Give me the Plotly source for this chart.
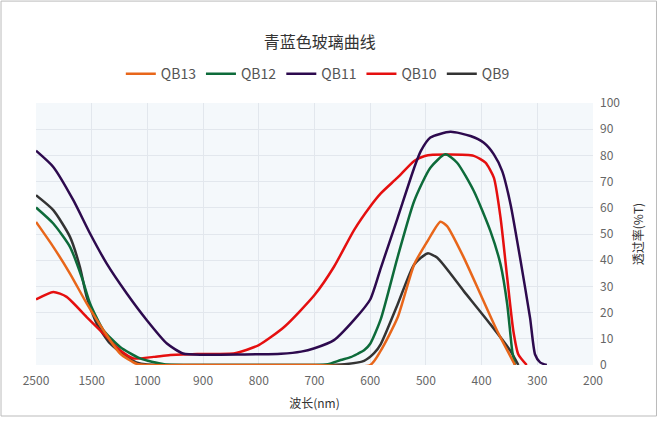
import numpy as np
import plotly.graph_objects as go

# ---- data (wavelength nm, transmittance %T) ----
tick_labels = ["200", "300", "400", "500", "600", "700", "800", "900", "1000", "1500", "2500"]
tick_wavelengths = [200, 300, 400, 500, 600, 700, 800, 900, 1000, 1500, 2500]

series_names = ["QB9", "QB10", "QB11", "QB12", "QB13"]
series_colors = ["#333333", "#e50f0f", "#2d0a4e", "#0d6b3a", "#e8661a"]

qb9_wl = [334, 348, 384, 432, 480, 497, 521, 551, 581, 593, 611, 646, 700, 800, 900, 1000, 1100, 1185, 1335, 1455, 1590, 1710, 1890, 2190, 2500]
qb9_t = [0, 5.3, 15.5, 28.2, 41, 42.6, 38.4, 23, 8, 4.5, 1.6, 0.3, 0, 0, 0, 0.2, 1.0, 3.0, 8.2, 15.8, 26.0, 37.3, 48.9, 59.1, 64.8]

qb10_wl = [319, 334, 343, 354, 366, 378, 393, 414, 462, 502, 521, 551, 581, 600, 629, 665, 700, 754, 800, 843, 903, 959, 989, 1125, 1245, 1365, 1590, 1950, 2190, 2500]
qb10_t = [0, 4, 13, 33.3, 56.2, 71.5, 77.2, 79.8, 80.3, 79.8, 77.9, 71.5, 65.5, 60.5, 51.5, 37.5, 26.7, 14.6, 7.6, 4.5, 4.2, 3.8, 3.1, 2.5, 5.6, 10.7, 18.3, 26.0, 27.9, 25.0]

qb11_wl = [283, 295, 304, 313, 331, 348, 363, 378, 396, 420, 456, 492, 509, 521, 551, 581, 600, 629, 665, 700, 724, 760, 834, 900, 936, 965, 1005, 1185, 1365, 1530, 1830, 2190, 2500]
qb11_t = [0, 1, 4, 18, 41, 61.3, 74, 80.4, 84.8, 87.4, 89, 86.8, 81.7, 75.3, 56, 37, 25, 17.2, 9.5, 6.4, 5.1, 4.3, 4.0, 3.9, 4.4, 8.2, 17.1, 27.3, 38.7, 50.2, 62.9, 75.6, 81.8]

qb12_wl = [340, 345, 354, 366, 384, 414, 444, 465, 492, 521, 551, 581, 600, 611, 623, 635, 653, 676, 700, 800, 900, 970, 1065, 1245, 1395, 1530, 1680, 1890, 2190, 2500]
qb12_t = [0, 5.3, 23.2, 38.4, 51, 66.4, 77.2, 80.4, 75.3, 62.6, 41, 17.5, 8.1, 5.6, 4.2, 3.0, 1.9, 0.3, 0, 0, 0, 0.3, 2.5, 6.9, 13.3, 23.5, 33.6, 45.1, 54.0, 60.1]

qb13_wl = [340, 372, 402, 432, 462, 474, 497, 521, 551, 581, 600, 700, 800, 900, 1000, 1095, 1245, 1395, 1590, 1890, 2190, 2500]
qb13_t = [0, 13, 27, 41, 53, 54.7, 47.3, 38.4, 18, 5.5, 0, 0, 0, 0, 0, 0.4, 4.4, 13.3, 23.5, 34.9, 45.1, 54.6]

series_wl = [qb9_wl, qb10_wl, qb11_wl, qb12_wl, qb13_wl]
series_t = [qb9_t, qb10_t, qb11_t, qb12_t, qb13_t]

# category-like axis: evenly spaced tick wavelengths
tick_pos = list(range(len(tick_wavelengths)))


def to_pos(wl):
    return np.interp(wl, tick_wavelengths, tick_pos)


font_family = "Noto Sans CJK SC, Noto Sans, sans-serif"

fig = go.Figure()
for name, color, wl, t in zip(series_names, series_colors, series_wl, series_t):
    fig.add_trace(go.Scatter(
        x=to_pos(np.array(wl, dtype=float)), y=t, name=name, mode="lines",
        line=dict(color=color, width=2.5, shape="spline", smoothing=0.6),
        hoverinfo="skip",
    ))

fig.update_layout(
    width=658, height=426,
    margin=dict(l=36, r=65, t=103, b=61, autoexpand=False),
    paper_bgcolor="white", plot_bgcolor="#f4f8fb",
    font=dict(family=font_family, size=12, color="#666"),
    title=dict(text="青蓝色玻璃曲线", xref="container", x=0.486, xanchor="center",
               yref="container", y=0.901, yanchor="middle",
               font=dict(size=16, color="#333", family=font_family)),
    legend=dict(orientation="h", xref="container", x=0.483, xanchor="center",
                yref="container", y=0.826, yanchor="middle",
                traceorder="reversed", font=dict(size=14, color="#555"),
                itemwidth=30),
    xaxis=dict(range=[tick_pos[-1], tick_pos[0]], tickvals=tick_pos, ticktext=tick_labels,
               showgrid=True, gridcolor="#e2e7ed", gridwidth=1, zeroline=False,
               showline=False, ticks="", tickfont=dict(size=12, color="#666"),
               ticklabelstandoff=7, automargin=False,
               title=dict(text="波长(nm)", font=dict(size=12, color="#333"), standoff=12)),
    yaxis=dict(range=[0, 100], dtick=10, side="right", showgrid=True, gridcolor="#e2e7ed",
               zeroline=False, showline=False, ticks="", tickfont=dict(size=12, color="#666"),
               ticklabelstandoff=6, automargin=False,
               title=dict(text="透过率(%T)", font=dict(size=12, color="#333"), standoff=15)),
    shapes=[dict(type="rect", xref="paper", yref="paper",
                 x0=-0.0628, x1=1.114, y0=-0.1947, y1=1.389,
                 line=dict(color="#bbbbbb", width=1), layer="below")],
)

fig.write_html("out.html", config={"displayModeBar": False},
               post_script="document.body.style.margin='0';")
